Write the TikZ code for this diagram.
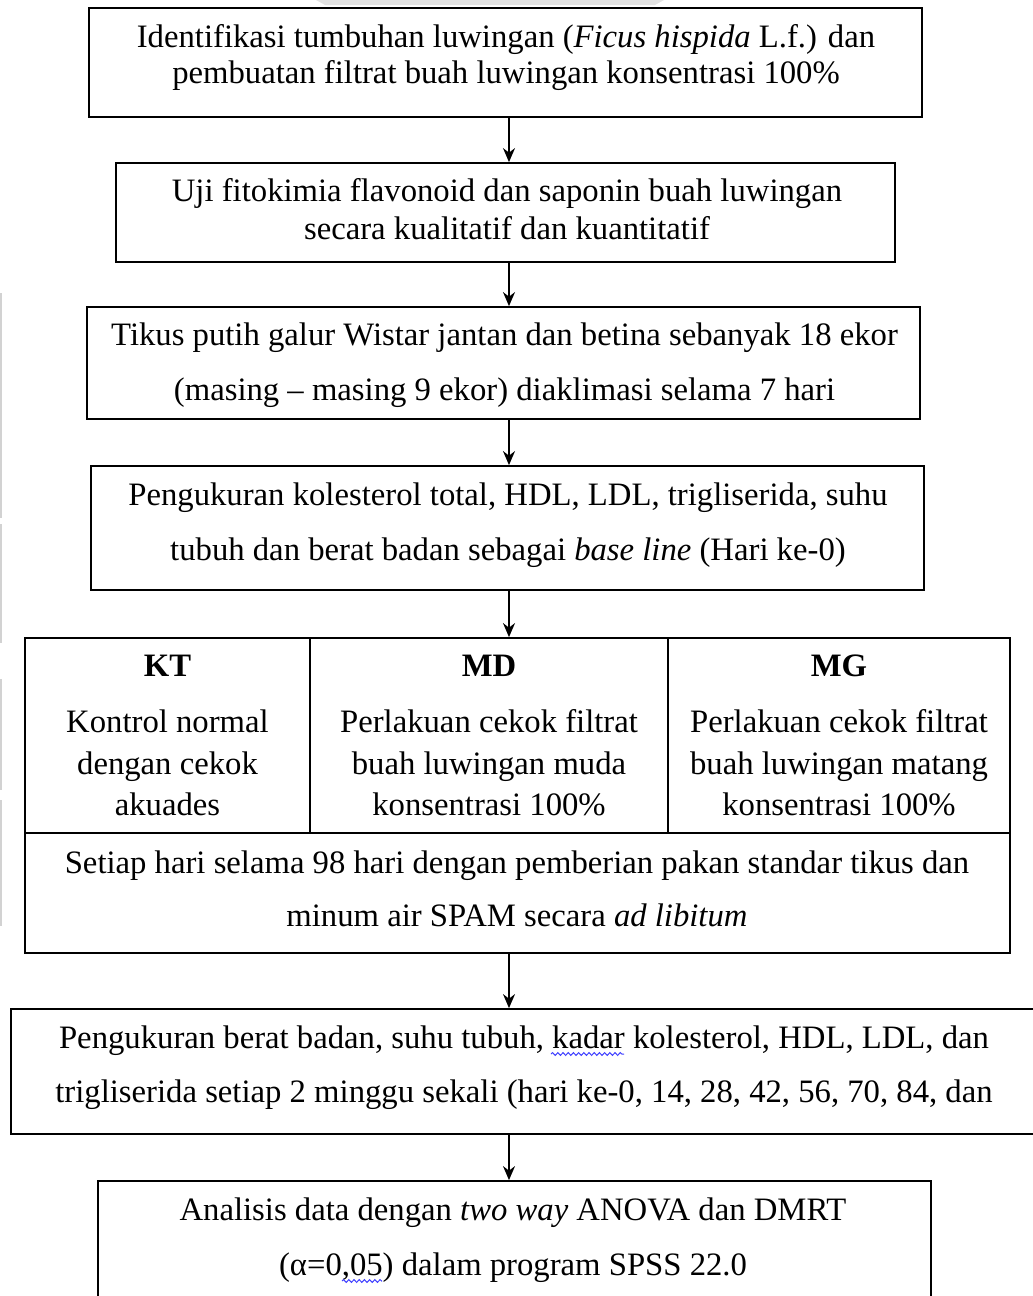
\documentclass[tikz,border=0pt]{standalone}
\usepackage{fontspec}
\setmainfont{Liberation Serif}
\usetikzlibrary{fit,arrows.meta,decorations.pathmorphing}
\begin{document}
\begin{tikzpicture}[x=0.5pt,y=-0.5pt,
  box/.style={draw, line width=0.9pt, inner sep=0pt},
  ln/.style={anchor=base, inner sep=0pt, font=\fontsize{16.35}{19}\selectfont},
  hd/.style={ln, font=\fontsize{16.35}{19}\selectfont\bfseries},
  arr/.style={line width=0.75pt, -{Stealth[length=7pt,width=6pt]}},
  edge mark/.style={draw=gray!35, line width=1pt},
  squig/.style={draw=blue!75!white, line width=0.5pt, decorate,
    decoration={snake, amplitude=0.7pt, segment length=2.6pt}}]
\useasboundingbox (0,0) rectangle (1033,1296);
\clip (0,0) rectangle (1033,1296);
\fill[gray!22] (316,0) -- (664,0) -- (655,5) -- (325,5) -- cycle;
\draw[edge mark] (1,293) -- (1,518) (1,524) -- (1,643) (1,679) -- (1,790) (1,800) -- (1,926);
\coordinate (ax) at (509,0);

% box 1
\node[box, fit={(89,8) (922,117)}] (b1) {};
\node[ln] at (506,47) {Identifikasi tumbuhan luwingan (\textit{Ficus hispida} L.f.) dan};
\node[ln] at (506,83) {pembuatan filtrat buah luwingan konsentrasi 100\%};

% box 2
\node[box, fit={(116,163) (895,262)}] (b2) {};
\node[ln] at (507,201) {Uji fitokimia flavonoid dan saponin buah luwingan};
\node[ln] at (507,239) {secara kualitatif dan kuantitatif};

% box 3
\node[box, fit={(87,307) (920,419)}] (b3) {};
\node[ln] at (504.5,345) {Tikus putih galur Wistar jantan dan betina sebanyak 18 ekor};
\node[ln] at (504.5,400) {(masing – masing 9 ekor) diaklimasi selama 7 hari};

% box 4
\node[box, fit={(91,466) (924,590)}] (b4) {};
\node[ln] at (508,505) {Pengukuran kolesterol total, HDL, LDL, trigliserida, suhu};
\node[ln] at (508,560) {tubuh dan berat badan sebagai \textit{base line} (Hari ke-0)};

% table
\node[box, fit={(25,638) (310,833)}] (kt) {};
\node[box, fit={(310,638) (668,833)}] (md) {};
\node[box, fit={(668,638) (1010,833)}] (mg) {};
\node[box, fit={(25,833) (1010,953)}] (bot) {};
\node[hd] at (167.5,676) {KT};
\node[ln] at (167.5,732) {Kontrol normal};
\node[ln] at (167.5,774) {dengan cekok};
\node[ln] at (167.5,815) {akuades};
\node[hd] at (489,676) {MD};
\node[ln] at (489,732) {Perlakuan cekok filtrat};
\node[ln] at (489,774) {buah luwingan muda};
\node[ln] at (489,815) {konsentrasi 100\%};
\node[hd] at (839,676) {MG};
\node[ln] at (839,732) {Perlakuan cekok filtrat};
\node[ln] at (839,774) {buah luwingan matang};
\node[ln] at (839,815) {konsentrasi 100\%};
\node[ln] at (517,873) {Setiap hari selama 98 hari dengan pemberian pakan standar tikus dan};
\node[ln] at (517,926) {minum air SPAM secara \textit{ad libitum}};

% box 6
\node[box, fit={(11,1009) (1040,1134)}] (b6) {};
\node[ln] at (524,1048) {Pengukuran berat badan, suhu tubuh, kadar kolesterol, HDL, LDL, dan};
\node[ln] at (524,1102) {trigliserida setiap 2 minggu sekali (hari ke-0, 14, 28, 42, 56, 70, 84, dan};
\draw[squig] (551,1054) -- (624,1054);

% box 7
\node[box, fit={(98,1181) (931,1320)}] (b7) {};
\node[ln] at (513,1220) {Analisis data dengan \textit{two way} ANOVA dan DMRT};
\node[ln] at (513,1275) {(α=0,05) dalam program SPSS 22.0};
\draw[squig] (342,1281) -- (382,1281);

% arrows
\draw[arr] (b1.south -| ax) -- (b2.north -| ax);
\draw[arr] (b2.south -| ax) -- (b3.north -| ax);
\draw[arr] (b3.south -| ax) -- (b4.north -| ax);
\draw[arr] (b4.south -| ax) -- (md.north -| ax);
\draw[arr] (bot.south -| ax) -- (b6.north -| ax);
\draw[arr] (b6.south -| ax) -- (b7.north -| ax);
\end{tikzpicture}
\end{document}
